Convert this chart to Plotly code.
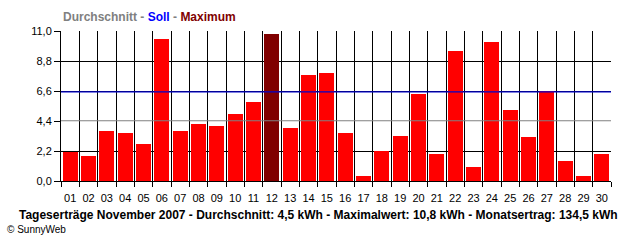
import plotly.graph_objects as go

days = [f"{i:02d}" for i in range(1, 31)]
values = [2.10, 1.81, 3.64, 3.50, 2.69, 10.39, 3.64, 4.16, 4.01, 4.89,
          5.77, 10.80, 3.86, 7.75, 7.90, 3.50, 0.34, 2.18, 3.28, 6.36,
          1.96, 9.51, 1.00, 10.17, 5.18, 3.20, 6.58, 1.44, 0.34, 1.96]
average = 4.42
target = 6.54
y_ticks = [0.0, 2.2, 4.4, 6.6, 8.8, 11.0]
y_labels = ["0,0", "2,2", "4,4", "6,6", "8,8", "11,0"]
y_grid = [2.2, 6.6, 8.8, 11.0]

max_idx = values.index(max(values))
colors = ["#800000" if i == max_idx else "#FF0000" for i in range(len(values))]
xpos = list(range(1, len(days) + 1))
xr = [0.5, len(days) + 0.5]

fig = go.Figure()
fig.add_trace(go.Scatter(x=xr, y=[average, average], mode="lines",
                         line=dict(color="#808080", width=1.2), hoverinfo="skip", showlegend=False))
fig.add_trace(go.Scatter(x=xr, y=[target, target], mode="lines",
                         line=dict(color="#0000CC", width=1.2), hoverinfo="skip", showlegend=False))
fig.add_trace(go.Bar(x=xpos, y=values, marker=dict(color=colors, line=dict(width=0)),
                     width=0.82, showlegend=False))
fig.add_trace(go.Scatter(x=xr, y=[0, 0], xaxis="x2", yaxis="y", mode="lines",
                         line=dict(width=0), hoverinfo="skip", showlegend=False))
fig.add_trace(go.Scatter(x=xr, y=[0, 0], xaxis="x", yaxis="y2", mode="lines",
                         line=dict(width=0), hoverinfo="skip", showlegend=False))

font = "Liberation Sans"
top, bottom_plot, bottom_paper = 31, 181, 190
ph = bottom_paper - top
fig.update_layout(
    width=640, height=240,
    margin=dict(l=61, r=29, t=top, b=240 - bottom_paper),
    paper_bgcolor="white", plot_bgcolor="white",
    bargap=0,
    xaxis=dict(range=xr, tickmode="array", tickvals=xpos, ticktext=days,
               anchor="free", position=0,
               showgrid=False, ticks="", showline=False, zeroline=False,
               tickfont=dict(family=font, size=11, color="black")),
    xaxis2=dict(range=xr, overlaying="x", side="bottom", anchor="y",
                tickmode="array", tickvals=[i + 0.5 for i in range(len(days) + 1)],
                showticklabels=False, ticks="outside", ticklen=5, tickcolor="black",
                tickwidth=1, showgrid=True, gridcolor="black", gridwidth=1,
                showline=True, linecolor="black", linewidth=1, mirror=False, zeroline=False),
    yaxis=dict(range=[0, 11], domain=[(bottom_paper - bottom_plot) / ph, 1],
               tickmode="array", tickvals=y_ticks, ticktext=y_labels,
               showgrid=False, ticks="outside", ticklen=6,
               tickcolor="black", showline=True, linecolor="black", linewidth=1, zeroline=False,
               tickfont=dict(family=font, size=11, color="black")),
    yaxis2=dict(range=[0, 11], overlaying="y", tickmode="array", tickvals=y_grid,
                showticklabels=False, ticks="", showgrid=True, gridcolor="black", gridwidth=1,
                showline=False, zeroline=False),
    annotations=[
        dict(xref="paper", yref="paper", x=0.0, y=(bottom_paper - 17) / ph,
             xanchor="left", yanchor="middle", showarrow=False,
             text="<b><span style='color:#808080'>Durchschnitt</span> - "
                  "<span style='color:#0000FF'>Soll</span> - "
                  "<span style='color:#800000'>Maximum</span></b>",
             font=dict(family=font, size=12, color="#808080")),
        dict(xref="paper", yref="paper", x=-0.08, y=(bottom_paper - 215) / ph,
             xanchor="left", yanchor="middle", showarrow=False,
             text="<b>Tageserträge November 2007 - Durchschnitt: 4,5 kWh - Maximalwert: 10,8 kWh - Monatsertrag: 134,5 kWh</b>",
             font=dict(family=font, size=12, color="black")),
        dict(xref="paper", yref="paper", x=-0.102, y=(bottom_paper - 229) / ph,
             xanchor="left", yanchor="middle", showarrow=False, text="© SunnyWeb",
             font=dict(family=font, size=10, color="black")),
    ],
)

fig.write_html("out.html")
